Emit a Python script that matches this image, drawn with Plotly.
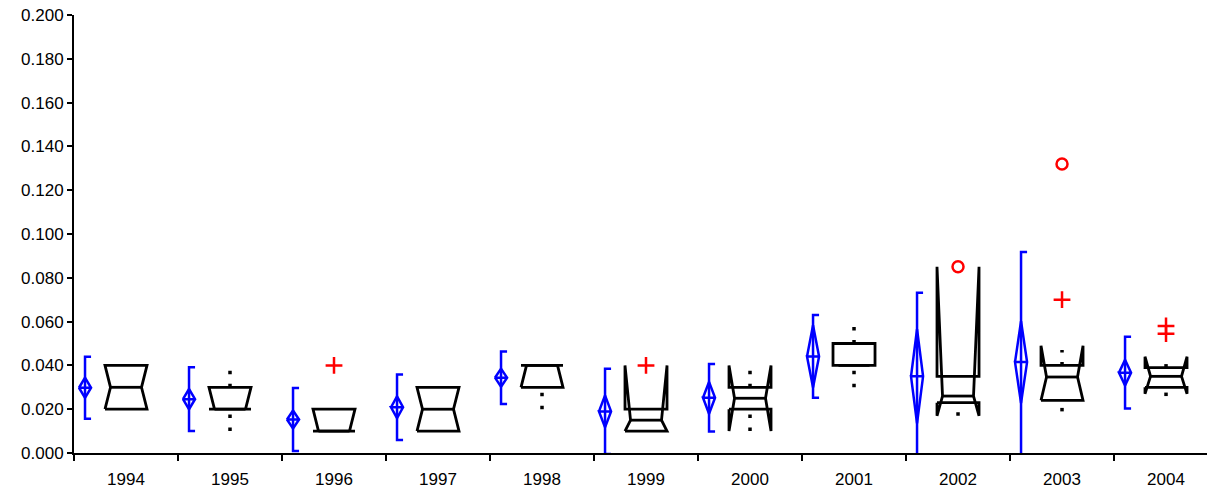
import plotly.graph_objects as go

# ---- data -------------------------------------------------------------
years = ["1994", "1995", "1996", "1997", "1998", "1999",
         "2000", "2001", "2002", "2003", "2004"]

# mean, standard deviation (bracket half-length) and confidence half-width (diamond)
mean_vals = [0.0298, 0.0246, 0.0153, 0.0209, 0.0344, 0.0190, 0.0252, 0.0441, 0.0350, 0.0415, 0.0367]
sd_vals = [0.0142, 0.0145, 0.0144, 0.0150, 0.0120, 0.0195, 0.0154, 0.0189, 0.0382, 0.0503, 0.0164]
ci_vals = [0.0046, 0.0046, 0.0041, 0.0050, 0.0041, 0.0073, 0.0073, 0.0142, 0.0215, 0.0187, 0.0059]

# notched box statistics
q1_vals = [0.020, 0.020, 0.010, 0.010, 0.030, 0.010, 0.020, 0.040, 0.023, 0.024, 0.030]
med_vals = [0.030, 0.020, 0.010, 0.020, 0.040, 0.015, 0.025, 0.040, 0.026, 0.0347, 0.035]
q3_vals = [0.040, 0.030, 0.020, 0.030, 0.040, 0.020, 0.030, 0.050, 0.035, 0.040, 0.039]
notch_lo = [0.020, 0.020, 0.010, 0.010, 0.030, 0.010, 0.010, 0.040, 0.017, 0.024, 0.027]
notch_hi = [0.040, 0.030, 0.020, 0.030, 0.040, 0.040, 0.040, 0.040, 0.085, 0.049, 0.044]
whisk_lo = [0.020, 0.010, 0.010, 0.010, 0.020, 0.010, 0.010, 0.030, 0.017, 0.019, 0.026]
whisk_hi = [0.040, 0.040, 0.020, 0.030, 0.040, 0.020, 0.040, 0.060, 0.035, 0.047, 0.0445]

outliers = [[], [], [0.040], [], [], [0.040], [], [], [], [0.070], [0.058, 0.0545]]
far_outliers = [[], [], [], [], [], [], [], [], [0.085], [0.132], []]

y_ticks = [0.000, 0.020, 0.040, 0.060, 0.080, 0.100, 0.120, 0.140, 0.160, 0.180, 0.200]

# ---- geometry (in category units) ------------------------------------
BOX_HALF = 0.202
NOTCH_IN = 0.053
MEAN_X = -0.394
CAP = 0.058
DIAMOND_HALF = 0.058

BLACK = "#000000"
BLUE = "#0000FF"
RED = "#FF0000"

box_x, box_y = [], []
wh_x, wh_y = [], []
br_x, br_y = [], []
dm_x, dm_y = [], []
out_x, out_y = [], []
far_x, far_y = [], []

for k in range(len(years)):
    L, R = k - BOX_HALF, k + BOX_HALF
    q1, m, q3 = q1_vals[k], med_vals[k], q3_vals[k]
    lo, hi = notch_lo[k], notch_hi[k]
    # notched outline
    box_x += [L, L, L + NOTCH_IN, L, L, R, R, R - NOTCH_IN, R, R, L, None,
              L + NOTCH_IN, R - NOTCH_IN, None]
    box_y += [q1, lo, m, hi, q3, q3, hi, m, lo, q1, q1, None, m, m, None]
    # dotted whiskers, drawn upward
    if whisk_lo[k] < q1:
        wh_x += [k, k, None]
        wh_y += [whisk_lo[k], q1, None]
    if whisk_hi[k] > q3:
        wh_x += [k, k, None]
        wh_y += [q3, whisk_hi[k], None]
    # mean bracket and diamond
    xb = k + MEAN_X
    top, bot = mean_vals[k] + sd_vals[k], mean_vals[k] - sd_vals[k]
    br_x += [xb + CAP, xb, xb, xb + CAP, None]
    br_y += [top, top, bot, bot, None]
    mu, ci = mean_vals[k], ci_vals[k]
    dm_x += [xb - DIAMOND_HALF, xb, xb + DIAMOND_HALF, xb, xb - DIAMOND_HALF,
             xb + DIAMOND_HALF, None]
    dm_y += [mu, mu + ci, mu, mu - ci, mu, mu, None]
    for v in outliers[k]:
        out_x.append(k)
        out_y.append(v)
    for v in far_outliers[k]:
        far_x.append(k)
        far_y.append(v)

fig = go.Figure()
fig.add_trace(go.Scatter(x=br_x, y=br_y, mode="lines",
                         line=dict(color=BLUE, width=2.5), hoverinfo="skip"))
fig.add_trace(go.Scatter(x=dm_x, y=dm_y, mode="lines",
                         line=dict(color=BLUE, width=2.5), hoverinfo="skip"))
fig.add_trace(go.Scatter(x=wh_x, y=wh_y, mode="lines",
                         line=dict(color=BLACK, width=3.5, dash="3.5px,9.5px"),
                         hoverinfo="skip"))
fig.add_trace(go.Scatter(x=box_x, y=box_y, mode="lines",
                         line=dict(color=BLACK, width=2.8), hoverinfo="skip"))
fig.add_trace(go.Scatter(x=out_x, y=out_y, mode="markers",
                         marker=dict(symbol="cross-thin", size=12,
                                     line=dict(color=RED, width=2.5))))
fig.add_trace(go.Scatter(x=far_x, y=far_y, mode="markers",
                         marker=dict(symbol="circle-open", size=11,
                                     color=RED, line=dict(color=RED, width=2.5))))

font = dict(family="Liberation Sans, Arial, sans-serif", size=17, color="#000000")

fig.update_layout(
    width=1207, height=490,
    margin=dict(l=74, r=0, t=15, b=37, autoexpand=False),
    paper_bgcolor="white", plot_bgcolor="white",
    showlegend=False,
    font=font,
    xaxis=dict(
        range=[-0.5, 10.394],
        tickmode="array", tickvals=list(range(len(years))), ticktext=years,
        ticks="", ticklabelstandoff=10,
        showline=True, linecolor=BLACK, linewidth=2,
        showgrid=False, zeroline=False,
        minor=dict(tickmode="array",
                   tickvals=[k - 0.5 for k in range(len(years) + 1)],
                   ticks="outside", ticklen=6, tickwidth=1.5, tickcolor=BLACK,
                   showgrid=False),
        tickfont=font,
    ),
    yaxis=dict(
        range=[0, 0.2],
        tickmode="array", tickvals=y_ticks, tickformat=".3f",
        ticks="outside", ticklen=5, tickwidth=1.5, tickcolor=BLACK,
        showline=True, linecolor=BLACK, linewidth=2,
        showgrid=False, zeroline=False,
        tickfont=font,
    ),
)

fig.write_html("out.html")
